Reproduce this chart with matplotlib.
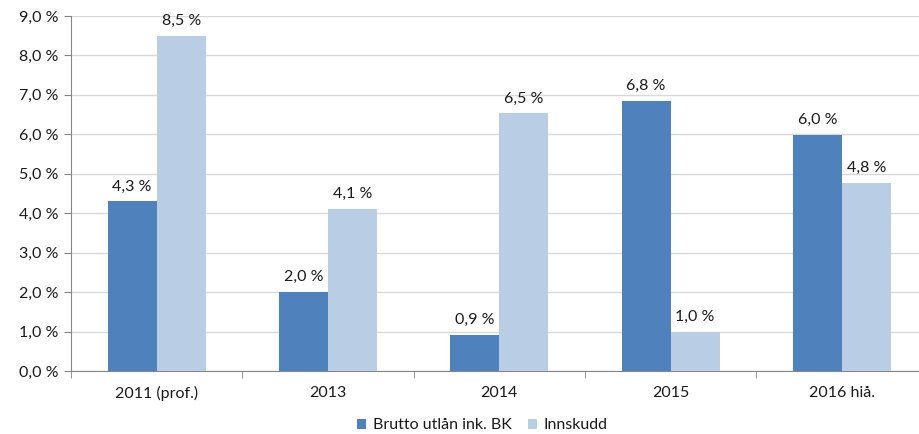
import matplotlib.pyplot as plt
import numpy as np

categories = ["2011 (prof.)", "2013", "2014", "2015", "2016 hiå."]
utlan = [4.3, 2.0, 0.92, 6.84, 5.98]
innskudd = [8.5, 4.1, 6.53, 1.0, 4.76]
utlan_labels = ["4,3 %", "2,0 %", "0,9 %", "6,8 %", "6,0 %"]
innskudd_labels = ["8,5 %", "4,1 %", "6,5 %", "1,0 %", "4,8 %"]
yticks = np.arange(0, 9.5, 1.0)

plt.rcParams["font.family"] = ["Lato", "DejaVu Sans"]
fs = 11.5

fig = plt.figure(figsize=(9.2, 4.34), dpi=100)
ax = fig.add_axes([0.0772, 0.1452, 0.931, 0.818])

x = np.arange(len(categories))
w = 0.286
dark = "#4F81BD"
light = "#B9CDE5"
b1 = ax.bar(x - w / 2, utlan, w, color=dark, label="Brutto utlån ink. BK", zorder=3)
b2 = ax.bar(x + w / 2, innskudd, w, color=light, label="Innskudd", zorder=3)

for bars, labs in ((b1, utlan_labels), (b2, innskudd_labels)):
    for r, t in zip(bars, labs):
        ax.text(r.get_x() + r.get_width() / 2, r.get_height() + 0.2, t,
                ha="center", va="bottom", fontsize=fs, color="#1a1a1a")

ax.set_xlim(-0.5, len(categories) - 0.5)
ax.set_ylim(0, 9)
ax.set_yticks(yticks)
ax.set_yticklabels([f"{v:.1f} %".replace(".", ",") for v in yticks], fontsize=fs)
ax.yaxis.grid(True, color="#D9D9D9", linewidth=1, zorder=0)

ax.set_xticks(x)
ax.set_xticklabels(categories, fontsize=fs)
ax.set_xticks(np.arange(-0.5, len(categories), 1.0), minor=True)
ax.tick_params(axis="x", which="major", length=0, pad=11)
ax.tick_params(axis="x", which="minor", length=5, color="#868686")
ax.tick_params(axis="y", length=5, color="#868686", pad=4)
ax.tick_params(labelcolor="#1a1a1a")

for s in ("top", "right"):
    ax.spines[s].set_visible(False)
for s in ("left", "bottom"):
    ax.spines[s].set_color("#868686")

fig.legend(loc="center", bbox_to_anchor=(0.524, 0.02), ncol=2, frameon=False,
           fontsize=fs, handlelength=0.6, handleheight=0.6, handletextpad=0.4,
           columnspacing=1.0, labelcolor="#1a1a1a")

fig.savefig("out.png", dpi=100)
